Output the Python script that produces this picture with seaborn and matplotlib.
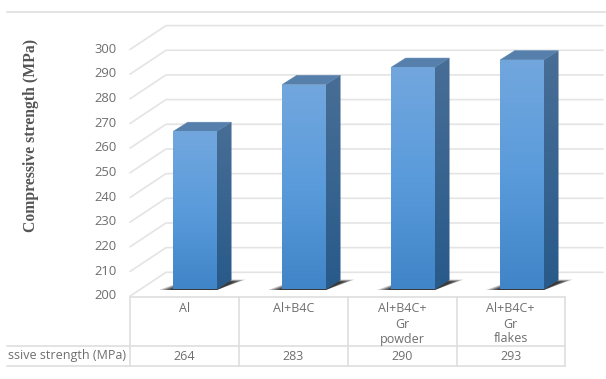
import numpy as np
import matplotlib
matplotlib.use("Agg")
import matplotlib.pyplot as plt
from matplotlib.colors import LinearSegmentedColormap
from matplotlib.patches import Polygon
import seaborn as sns
import pandas as pd

# Data
materials = ["Al", "Al+B4C", "Al+B4C+\nGr\npowder", "Al+B4C+\nGr\nflakes"]
strength = [264, 283, 290, 293]
y_ticks = [200, 210, 220, 230, 240, 250, 260, 270, 280, 290, 300]
axis_title = "Compressive strength (MPa)"
row_header = "ssive strength (MPa)"

W, H = 606, 379
sns.set_theme(style="white")
plt.rcParams["font.family"] = ["Open Sans", "DejaVu Sans"]
TEXT = "#6e6e6e"
LINE = "#dedede"

fig = plt.figure(figsize=(W / 100, H / 100), dpi=100, facecolor="white")

# Layer with pixel coordinates for the data table and frame lines
frame = fig.add_axes([0, 0, 1, 1], zorder=0)
frame.set_xlim(0, W)
frame.set_ylim(H, 0)
frame.axis("off")

# Front plane of the bars: 109 px per category, 2.467 px per MPa
left, right = 140.5, 576.5
base, top = 289.3, 42.6
ax = fig.add_axes([left / W, 1 - base / H, (right - left) / W, (base - top) / H], zorder=1)
ax.patch.set_alpha(0)
df = pd.DataFrame({"material": materials, "strength": strength})
sns.barplot(data=df, x="material", y="strength", width=0.4, color="#4f90d2",
            saturation=1, linewidth=0, ax=ax)
ax.set_xlim(-0.5, 3.5)
ax.set_ylim(y_ticks[0], y_ticks[-1])
ax.axis("off")

px_x = 1 / 109.0
px_y = 100 / (base - top)


def gradient(target, stops, extent, zorder):
    cmap = LinearSegmentedColormap.from_list("face", stops)
    img = ax.imshow(np.linspace(0, 1, 128)[:, None], cmap=cmap, aspect="auto",
                    extent=extent, origin="upper", zorder=zorder,
                    interpolation="bilinear")
    img.set_clip_path(target)


# Back wall and floor gridlines
for v in y_ticks:
    ax.plot([-10.5 * px_x - 0.5, 25.5 * px_x - 0.5, 462.5 * px_x - 0.5],
            [v - 6.9 * px_y, v + 17.0 * px_y, v + 17.0 * px_y],
            color="#e4e4e4", lw=1.2, clip_on=False, zorder=1, solid_joinstyle="miter")
    ax.text(-23.5 * px_x - 0.5, v - 6.6 * px_y, str(v), ha="right", va="center",
            fontsize=9.4, color=TEXT, clip_on=False)

depth_x = 14.5 * px_x
depth_y = 9.2 * px_y
floor = y_ticks[0]

# Extruded look for each bar, built from the bars seaborn placed
for bar in list(ax.patches):
    x0, x1 = bar.get_x(), bar.get_x() + bar.get_width()
    y1 = bar.get_height()
    bar.set_y(floor)
    bar.set_height(y1 - floor)
    y0 = floor
    order = 3 + 0.01 * x0

    # Cast shadow on the floor, darker towards the bar
    for grow, alpha in [(1.0, 0.28), (0.75, 0.38), (0.5, 0.48), (0.25, 0.55)]:
        reach = 14 * grow
        rise = depth_y * (0.75 + 0.3 * grow)
        shadow = Polygon([(x0 - reach * px_x, y0 - 0.7 * px_y),
                          (x1, y0 - 0.7 * px_y),
                          (x1 + depth_x + reach * px_x, y0 + rise),
                          (x0 + depth_x, y0 + rise)],
                         closed=True, facecolor="#222222", edgecolor="none",
                         alpha=alpha, clip_on=False, zorder=2)
        ax.add_patch(shadow)

    side = Polygon([(x1, y0), (x1 + depth_x, y0 + depth_y),
                    (x1 + depth_x, y1 + depth_y), (x1, y1)],
                   closed=True, facecolor="#3a6591", edgecolor="none", zorder=order,
                   clip_on=False)
    ax.add_patch(side)
    gradient(side, ["#486e96", "#285a8a"],
             (x1, x1 + depth_x, y0, y1 + depth_y), order + 0.001)

    cap = Polygon([(x0, y1), (x1, y1), (x1 + depth_x, y1 + depth_y),
                   (x0 + depth_x, y1 + depth_y)],
                  closed=True, facecolor="#567fab", edgecolor="#5f87b2", lw=0.4,
                  zorder=order + 0.002, clip_on=False)
    ax.add_patch(cap)

    bar.set_zorder(order + 0.003)
    gradient(bar, ["#72a7de", "#5a9bdb", "#4085c8"], (x0, x1, y0, y1), order + 0.004)

ax.set_xlim(-0.5, 3.5)
ax.set_ylim(y_ticks[0], y_ticks[-1])

# Axis title
frame.text(31, 135.5, axis_title, rotation=90, ha="center", va="center",
           family="Liberation Serif", weight="bold", fontsize=11.3, color="#555555")

# Rule across the top of the chart
frame.plot([7, W], [11.5, 11.5], color=LINE, lw=1.2)

# Data table under the plot
col_edges = [130, 239, 347.5, 456.5, 565]
row_top, row_mid, row_bot = 296.5, 346, 366
frame.plot([col_edges[0], col_edges[-1]], [row_top, row_top], color=LINE, lw=1.2)
frame.plot([7, col_edges[-1]], [row_mid, row_mid], color=LINE, lw=1.2)
frame.plot([7, col_edges[-1]], [row_bot, row_bot], color=LINE, lw=1.2)
for edge in col_edges:
    frame.plot([edge, edge], [row_top, row_bot], color=LINE, lw=1.2)

for i, (name, val) in enumerate(zip(materials, strength)):
    cx = (col_edges[i] + col_edges[i + 1]) / 2
    for j, part in enumerate(name.split("\n")):
        frame.text(cx, 309 + j * 15, part, ha="center", va="center",
                   fontsize=9, color=TEXT)
    frame.text(cx, 356, str(val), ha="center", va="center", fontsize=9, color=TEXT)

frame.text(126, 355.5, row_header, ha="right", va="center", fontsize=9, color=TEXT)

fig.savefig("out.png", dpi=100, facecolor="white")
